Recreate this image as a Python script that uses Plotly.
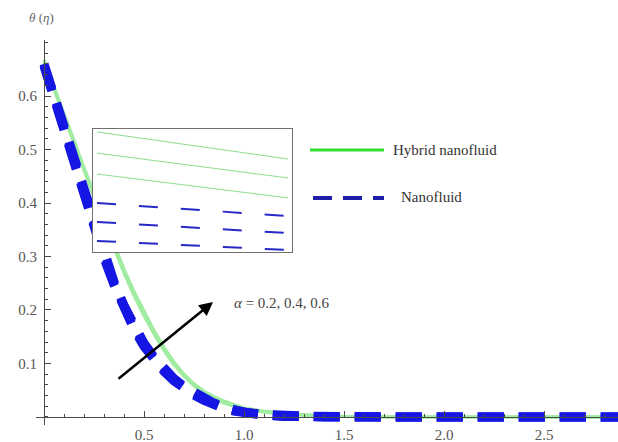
import plotly.graph_objects as go

# ---------------- data ----------------
eta = [0.00, 0.05, 0.10, 0.15, 0.20, 0.25, 0.30, 0.35, 0.40, 0.45,
       0.50, 0.55, 0.60, 0.65, 0.70, 0.75, 0.80, 0.85, 0.90, 0.95,
       1.00, 1.10, 1.20, 1.30, 1.40, 1.50, 1.75, 2.00, 2.25, 2.50, 2.75, 2.90]

# Hybrid nanofluid temperature profiles, alpha = 0.2, 0.4, 0.6
hybrid_a02 = [0.662, 0.611, 0.560, 0.510, 0.460, 0.411, 0.363, 0.316, 0.269, 0.227,
              0.189, 0.155, 0.124, 0.097, 0.076, 0.058, 0.044, 0.034, 0.026, 0.020,
              0.015, 0.009, 0.005, 0.003, 0.002, 0.001, 0.000, 0.000, 0.000, 0.000, 0.000, 0.000]
hybrid_a04 = [0.665, 0.614, 0.563, 0.513, 0.463, 0.415, 0.367, 0.320, 0.273, 0.231,
              0.193, 0.158, 0.127, 0.100, 0.078, 0.060, 0.046, 0.036, 0.028, 0.022,
              0.016, 0.010, 0.006, 0.004, 0.002, 0.001, 0.000, 0.000, 0.000, 0.000, 0.000, 0.000]
hybrid_a06 = [0.668, 0.617, 0.566, 0.516, 0.467, 0.419, 0.371, 0.324, 0.277, 0.235,
              0.197, 0.162, 0.130, 0.103, 0.080, 0.062, 0.048, 0.038, 0.030, 0.023,
              0.017, 0.011, 0.007, 0.004, 0.003, 0.001, 0.000, 0.000, 0.000, 0.000, 0.000, 0.000]

# Nanofluid temperature profiles, alpha = 0.2, 0.4, 0.6
nano_a02 = [0.656, 0.595, 0.532, 0.472, 0.412, 0.353, 0.297, 0.247, 0.202, 0.164,
            0.132, 0.106, 0.085, 0.067, 0.053, 0.041, 0.031, 0.022, 0.016, 0.011,
            0.007, 0.003, 0.001, 0.000, 0.000, 0.000, 0.000, 0.000, 0.000, 0.000, 0.000, 0.000]
nano_a04 = [0.658, 0.598, 0.535, 0.475, 0.415, 0.356, 0.300, 0.250, 0.205, 0.167,
            0.135, 0.109, 0.088, 0.070, 0.055, 0.043, 0.033, 0.024, 0.017, 0.012,
            0.008, 0.004, 0.002, 0.001, 0.000, 0.000, 0.000, 0.000, 0.000, 0.000, 0.000, 0.000]
nano_a06 = [0.660, 0.601, 0.538, 0.478, 0.418, 0.359, 0.303, 0.253, 0.208, 0.170,
            0.138, 0.112, 0.091, 0.072, 0.057, 0.045, 0.035, 0.026, 0.019, 0.013,
            0.009, 0.005, 0.002, 0.001, 0.000, 0.000, 0.000, 0.000, 0.000, 0.000, 0.000, 0.000]

# Magnified view
inset_eta = [0.500, 0.5125, 0.525, 0.5375, 0.550]
inset_hybrid = [
    [0.1317, 0.1293, 0.1268, 0.1244, 0.1220],   # alpha = 0.2
    [0.1402, 0.1377, 0.1351, 0.1326, 0.1301],   # alpha = 0.4
    [0.1488, 0.1461, 0.1433, 0.1405, 0.1378],   # alpha = 0.6
]
inset_nano = [
    [0.1045, 0.1036, 0.1027, 0.1017, 0.1008],   # alpha = 0.2
    [0.1122, 0.1111, 0.1100, 0.1088, 0.1077],   # alpha = 0.4
    [0.1199, 0.1186, 0.1173, 0.1160, 0.1146],   # alpha = 0.6
]

x_ticks = [0.5, 1.0, 1.5, 2.0, 2.5]
x_ticktext = ["0.5", "1.0", "1.5", "2.0", "2.5"]
y_ticks = [0.1, 0.2, 0.3, 0.4, 0.5, 0.6]
y_ticktext = ["0.1", "0.2", "0.3", "0.4", "0.5", "0.6"]

# ---------------- layout geometry ----------------
W, H = 618, 442
ML, MR, MT, MB = 36, 0, 40, 17
PW, PH = W - ML - MR, H - MT - MB
X_RANGE = [-0.04, 2.87]
Y_RANGE = [-0.015, 0.7047]

def px_to_paper_x(px):
    return (px - ML) / PW

def px_to_paper_y(py):
    return (H - MB - py) / PH

SERIF = "Liberation Serif, Times New Roman, DejaVu Serif, serif"
GREEN_MAIN = "rgb(160,236,160)"
GREEN_INSET = "rgb(140,222,140)"
BLUE_MAIN = "rgb(22,22,228)"
BLUE_INSET = "rgb(40,40,200)"

fig = go.Figure()

for ys in (hybrid_a02, hybrid_a04, hybrid_a06):
    fig.add_trace(go.Scatter(x=eta, y=ys, mode="lines",
                             line=dict(color=GREEN_MAIN, width=3),
                             showlegend=False, hoverinfo="skip"))
for ys in (nano_a02, nano_a04, nano_a06):
    fig.add_trace(go.Scatter(x=eta, y=ys, mode="lines",
                             line=dict(color=BLUE_MAIN, width=9, dash="26px,15px"),
                             showlegend=False, hoverinfo="skip"))

for ys in inset_hybrid:
    fig.add_trace(go.Scatter(x=inset_eta, y=ys, mode="lines", xaxis="x2", yaxis="y2",
                             line=dict(color=GREEN_INSET, width=1),
                             showlegend=False, hoverinfo="skip"))
for ys in inset_nano:
    fig.add_trace(go.Scatter(x=inset_eta, y=ys, mode="lines", xaxis="x2", yaxis="y2",
                             line=dict(color=BLUE_INSET, width=2, dash="19px,23px"),
                             showlegend=False, hoverinfo="skip"))

tickfont = dict(family=SERIF, size=15, color="#555555")
axis_common = dict(showline=True, linecolor="#4a4a4a", linewidth=1,
                   ticks="inside", tickcolor="#4a4a4a", tickwidth=1, ticklen=6,
                   showgrid=False, zeroline=False, tickfont=tickfont,
                   ticklabelstandoff=4)

fig.update_layout(
    width=W, height=H,
    margin=dict(l=ML, r=MR, t=MT, b=MB),
    paper_bgcolor="white", plot_bgcolor="white",
    font=dict(family=SERIF),
    xaxis=dict(range=X_RANGE, anchor="free", position=px_to_paper_y(417),
               tickmode="array", tickvals=x_ticks, ticktext=x_ticktext,
               minor=dict(tickmode="linear", tick0=0, dtick=0.1, ticks="inside",
                          ticklen=3, tickcolor="#4a4a4a"),
               **axis_common),
    yaxis=dict(range=Y_RANGE, anchor="free", position=px_to_paper_x(44),
               tickmode="array", tickvals=y_ticks, ticktext=y_ticktext,
               minor=dict(tickmode="linear", tick0=0, dtick=0.02, ticks="inside",
                          ticklen=3, tickcolor="#4a4a4a"),
               **axis_common),
    xaxis2=dict(domain=[px_to_paper_x(93), px_to_paper_x(292)],
                range=[0.49895, 0.55105], anchor="y2",
                showline=True, mirror=True, linecolor="#707070", linewidth=1,
                showticklabels=False, ticks="", showgrid=False, zeroline=False),
    yaxis2=dict(domain=[px_to_paper_y(252), px_to_paper_y(129)],
                range=[0.1, 0.15], anchor="x2",
                showline=True, mirror=True, linecolor="#707070", linewidth=1,
                showticklabels=False, ticks="", showgrid=False, zeroline=False),
)

# legend keys
fig.add_shape(type="line", xref="paper", yref="paper",
              x0=px_to_paper_x(310), x1=px_to_paper_x(384),
              y0=px_to_paper_y(150), y1=px_to_paper_y(150),
              line=dict(color="rgb(50,222,50)", width=3))
fig.add_shape(type="line", xref="paper", yref="paper",
              x0=px_to_paper_x(313), x1=px_to_paper_x(384),
              y0=px_to_paper_y(198), y1=px_to_paper_y(198),
              line=dict(color="rgb(30,30,170)", width=4, dash="19px,11px"))

fig.add_annotation(text="Hybrid nanofluid", xref="paper", yref="paper",
                   x=px_to_paper_x(391), y=px_to_paper_y(150),
                   xanchor="left", yanchor="middle", showarrow=False,
                   font=dict(family=SERIF, size=15, color="#333333"))
fig.add_annotation(text="Nanofluid", xref="paper", yref="paper",
                   x=px_to_paper_x(399), y=px_to_paper_y(197),
                   xanchor="left", yanchor="middle", showarrow=False,
                   font=dict(family=SERIF, size=15, color="#333333"))

# direction of increasing alpha
fig.add_annotation(x=0.845, y=0.215, ax=0.365, ay=0.069,
                   xref="x", yref="y", axref="x", ayref="y",
                   text="", showarrow=True, arrowhead=2, arrowsize=1.1,
                   arrowwidth=2.5, arrowcolor="black")
fig.add_annotation(text="<i>α</i> = 0.2, 0.4, 0.6", x=0.94, y=0.213,
                   xref="x", yref="y", xanchor="left", yanchor="middle",
                   showarrow=False,
                   font=dict(family=SERIF, size=15, color="#444444"))

# axis title
fig.add_annotation(text="<i>θ</i> (<i>η</i>)", xref="paper", yref="paper",
                   x=px_to_paper_x(27), y=px_to_paper_y(17),
                   xanchor="left", yanchor="middle", showarrow=False,
                   font=dict(family=SERIF, size=13, color="#666666"))

fig.write_html("out.html")
